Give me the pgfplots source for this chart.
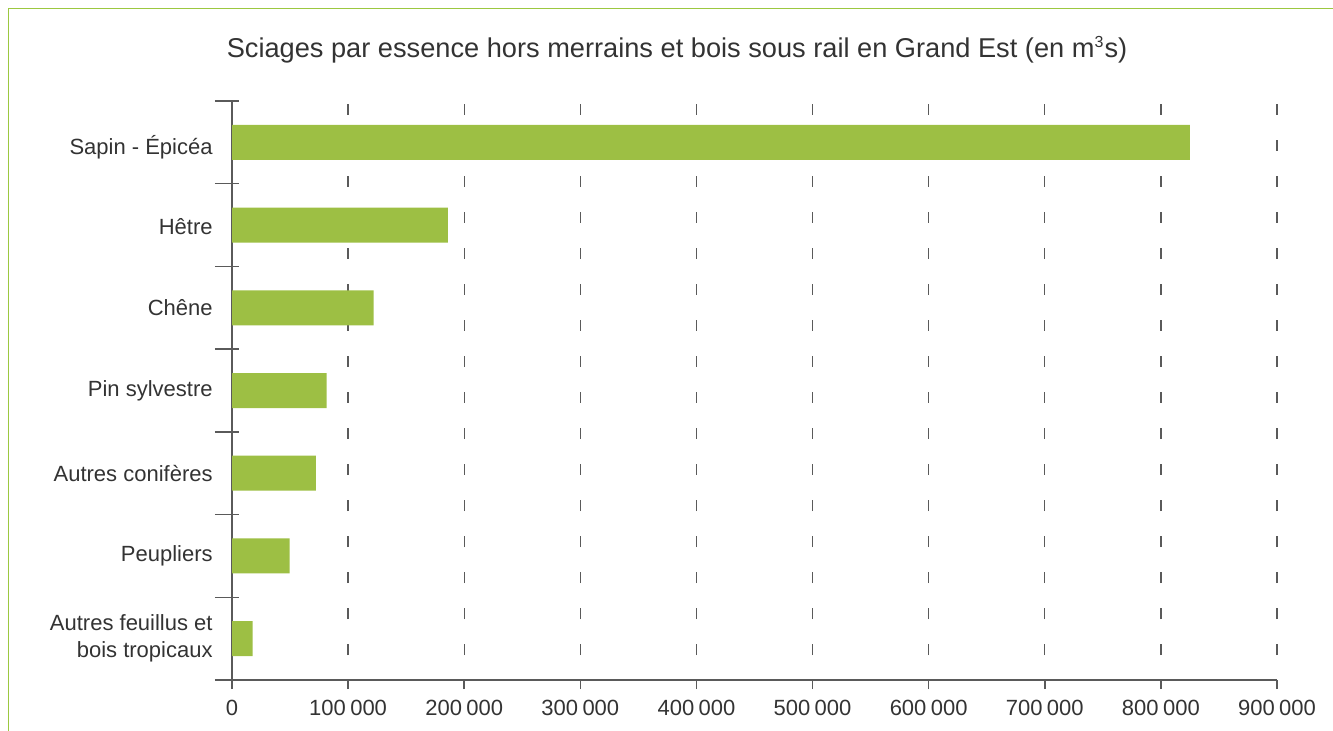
\documentclass[border=0pt]{standalone}
\usepackage{pgfplots}
\pgfplotsset{compat=1.18}
\usepackage{fontspec}
\setmainfont{Liberation Sans}
\definecolor{bargreen}{HTML}{9DBF44}
\definecolor{framegreen}{HTML}{9CC840}
\definecolor{txt}{HTML}{333333}
\definecolor{axisgrey}{HTML}{5A5A5A}
\newcommand{\ks}{\hspace{0.2em}}
\begin{document}
\begin{tikzpicture}
\path[use as bounding box] (0,0) rectangle (666.5pt,-365.5pt);
\draw[framegreen, line width=0.8pt] (4.2pt,-420pt) -- (4.2pt,-4.2pt) -- (720pt,-4.2pt);
\node[anchor=base, text=txt, font=\fontsize{13.6}{15}\selectfont] at (338.5pt,-29pt)
  {Sciages par essence hors merrains et bois sous rail en Grand Est (en m\textsuperscript{\fontsize{8}{9}\selectfont 3}s)};
\begin{axis}[
  at={(116pt,-340pt)}, anchor=south west,
  scale only axis, width=522.5pt, height=289.5pt,
  xmin=0, xmax=900000, ymin=0, ymax=7,
  axis x line*=bottom, axis y line*=left,
  axis line style={axisgrey, line width=0.75pt},
  xbar, bar width=17.5pt,
  xtick={0,100000,...,900000},
  xticklabels={0,100\ks000,200\ks000,300\ks000,400\ks000,500\ks000,600\ks000,700\ks000,800\ks000,900\ks000},
  tick align=outside,
  major tick length=4.5pt,
  minor tick length=12pt,
  ytick={0.5,1.5,...,6.5},
  yticklabels={{Autres feuillus et\\bois tropicaux},Peupliers,Autres conifères,Pin sylvestre,Chêne,Hêtre\rule{0pt}{9.6pt},Sapin - Épicéa\rule{0pt}{14pt}},
  minor ytick={0,1,...,7},
  major y tick style={draw=none},
  minor y tick style={axisgrey, line width=0.75pt, xshift=3.5pt},
  major x tick style={axisgrey, line width=0.75pt},
  xmajorgrids,
  major grid style={axisgrey, line width=0.7pt, dash pattern=on 5.5pt off 12.5pt, dash phase=5.5pt},
  tick label style={text=txt, font=\fontsize{11}{13.5}\selectfont},
  yticklabel style={align=right, inner sep=0pt, xshift=-5pt},
  xticklabel style={inner sep=0pt, yshift=-5.5pt},
]
\addplot[fill=bargreen, draw=none] coordinates {
  (17800,0.5) (49700,1.5) (72300,2.5) (81500,3.5) (122000,4.5) (186000,5.5) (825000,6.5)
};
\end{axis}
\end{tikzpicture}
\end{document}
